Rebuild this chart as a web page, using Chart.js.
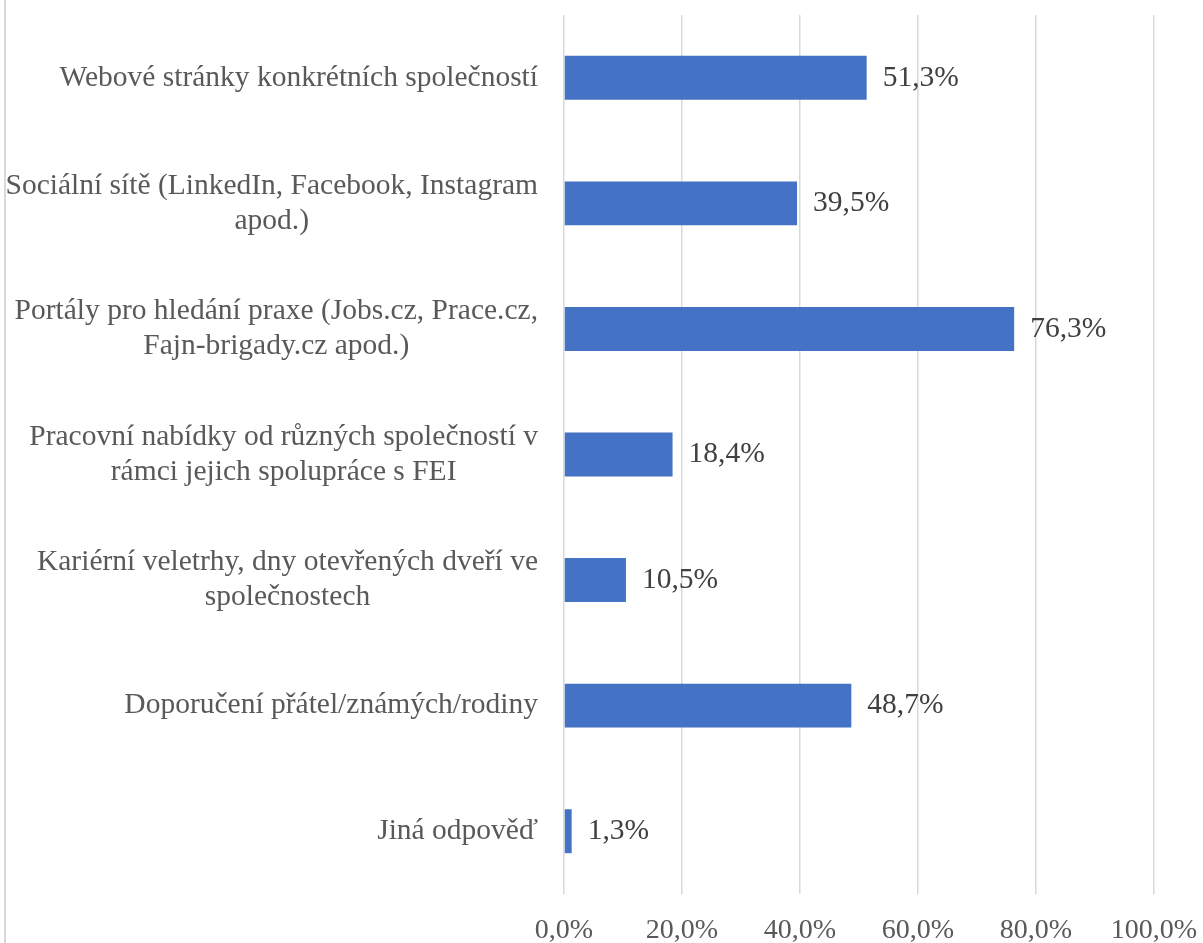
<!DOCTYPE html>
<html>
<head>
<meta charset="utf-8">
<script src="https://cdn.jsdelivr.net/npm/chart.js@4"></script>
<style>
    body { margin: 0; background: #fff; }
    #wrap { position: relative; width: 1203px; height: 943px; }
    #wrap::before {
        content: ''; position: absolute; left: 4px; top: 0; bottom: 0;
        width: 2px; background: #d9d9d9;
    }
</style>
</head>
<body>
<div id="wrap"><canvas id="chart" width="1203" height="943"></canvas></div>
<script>
const categories = [
    ['Webové stránky konkrétních společností'],
    ['Sociální sítě (LinkedIn, Facebook, Instagram', 'apod.)'],
    ['Portály pro hledání praxe (Jobs.cz, Prace.cz,', 'Fajn-brigady.cz apod.)'],
    ['Pracovní nabídky od různých společností v', 'rámci jejich spolupráce s FEI'],
    ['Kariérní veletrhy, dny otevřených dveří ve', 'společnostech'],
    ['Doporučení přátel/známých/rodiny'],
    ['Jiná odpověď']
];
const shares = [51.3, 39.5, 76.3, 18.4, 10.5, 48.7, 1.3];
const xTicks = [0, 20, 40, 60, 80, 100];

const FONT = '"Liberation Serif", "Times New Roman", serif';
const pct = v => v.toFixed(1).replace('.', ',') + '%';

// category labels: block right-aligned to the axis, lines centred inside the block
const categoryLabels = {
    id: 'categoryLabels',
    afterDraw(chart) {
        const ctx = chart.ctx;
        const y = chart.scales.y;
        const right = y.right - 26;
        const lineH = 35;
        ctx.save();
        ctx.font = '29.5px ' + FONT;
        ctx.fillStyle = '#595959';
        ctx.textAlign = 'center';
        ctx.textBaseline = 'middle';
        categories.forEach((lines, i) => {
            const w = Math.max(...lines.map(l => ctx.measureText(l).width));
            const cx = right - w / 2;
            const cy = y.getPixelForTick(i);
            lines.forEach((l, k) => {
                ctx.fillText(l, cx, cy + (k - (lines.length - 1) / 2) * lineH);
            });
        });
        ctx.restore();
    }
};

// value labels at the end of each bar
const valueLabels = {
    id: 'valueLabels',
    afterDatasetsDraw(chart) {
        const ctx = chart.ctx;
        ctx.save();
        ctx.font = '29.5px ' + FONT;
        ctx.fillStyle = '#404040';
        ctx.textAlign = 'left';
        ctx.textBaseline = 'middle';
        chart.getDatasetMeta(0).data.forEach((bar, i) => {
            ctx.fillText(pct(shares[i]), bar.x + 16, bar.y);
        });
        ctx.restore();
    }
};

new Chart(document.getElementById('chart'), {
    type: 'bar',
    data: {
        labels: categories,
        datasets: [{
            data: shares,
            backgroundColor: '#4472c4',
            barPercentage: 0.35,
            categoryPercentage: 1.0
        }]
    },
    options: {
        indexAxis: 'y',
        responsive: false,
        animation: false,
        layout: { padding: { top: 15, right: 49, left: 0, bottom: 0 } },
        plugins: { legend: { display: false }, tooltip: { enabled: false } },
        scales: {
            x: {
                min: 0,
                max: 100,
                afterBuildTicks: s => { s.ticks = xTicks.map(v => ({ value: v })); },
                afterFit: s => {
                    s.height = 49;
                    s.paddingLeft = 0;
                    s.paddingRight = 0;
                },
                grid: { color: '#d9d9d9', lineWidth: 1.5, drawTicks: false },
                border: { display: false },
                ticks: {
                    padding: 20,
                    color: '#595959',
                    font: { family: FONT, size: 28 },
                    callback: v => pct(v)
                }
            },
            y: {
                afterFit: s => { s.width = 564; },
                grid: { display: false },
                border: { display: false },
                ticks: { display: false }
            }
        }
    },
    plugins: [categoryLabels, valueLabels]
});
</script>
</body>
</html>
